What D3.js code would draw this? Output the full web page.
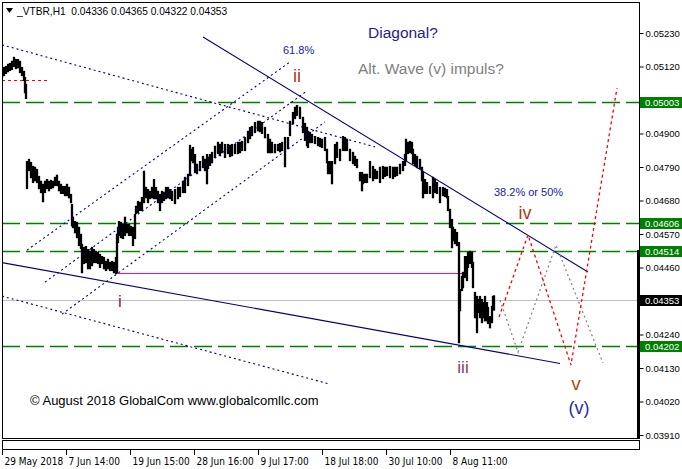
<!DOCTYPE html>
<html><head><meta charset="utf-8">
<script src="https://cdn.jsdelivr.net/npm/d3@7/dist/d3.min.js"></script>
<style>
body{margin:0;background:#fff;}
svg{display:block;font-family:"Liberation Sans",Arial,sans-serif;}
</style>
</head><body>
<svg id="c" width="682" height="469"></svg>
<script>
// ---------- DATA ----------
const header = "_VTBR,H1  0.04336 0.04365 0.04322 0.04353";
// hourly bars: [bar number, high, low] with prices in points (1e-5)
const hourBars = [
[2,5109,5086],[4,5115,5092],[6,5118,5099],[8,5125,5105],[10,5128,5109],[12,5135,5112],[14,5148,5122],[16,5141,5115],[18,5141,5118],[20,5135,5102],[22,5115,5092],[24,5102,5076],[25,5082,5036],[26,5059,5017],
[27,4806,4721],[29,4813,4780],[31,4803,4757],[33,4790,4741],[35,4787,4747],[37,4780,4741],[39,4757,4721],[41,4741,4708],[43,4731,4678],[45,4741,4708],[47,4747,4721],[49,4741,4714],[51,4744,4721],[53,4741,4724],[55,4754,4731],[57,4761,4731],[59,4741,4714],[61,4731,4705],[63,4724,4705],[65,4724,4698],[67,4731,4698],[69,4721,4691],[71,4698,4675],[72,4665,4599],[73,4623,4593],[75,4609,4576],[77,4606,4560],[79,4590,4534],[81,4567,4524],[82,4534,4445],[84,4524,4475],[86,4527,4478],[88,4517,4458],[90,4511,4458],[92,4524,4468],[94,4517,4478],[96,4511,4478],[98,4508,4475],[100,4501,4462],[102,4494,4475],[104,4491,4458],[106,4478,4452],[108,4485,4458],[110,4475,4452],[112,4478,4452],[114,4475,4445],[116,4491,4442],[117,4567,4445],[118,4590,4544],[119,4609,4567],[121,4606,4560],[123,4599,4557],[125,4623,4567],[127,4599,4576],[129,4599,4567],[131,4593,4567],[133,4590,4534],[135,4632,4557],[136,4659,4639],[138,4675,4642],[140,4672,4649],[142,4688,4649],[144,4774,4675],[146,4721,4691],[148,4714,4675],[150,4708,4688],[152,4721,4691],[154,4747,4688],[156,4721,4688],[158,4708,4675],[160,4698,4649],[162,4708,4675],[164,4705,4682],[166,4721,4688],[168,4721,4691],[170,4714,4688],[172,4708,4682],[175,4714,4672],[178,4721,4688],[180,4721,4695],[183,4741,4708],[185,4754,4708],[188,4764,4731],[190,4859,4764],[192,4846,4813],[193,4852,4806],[195,4829,4774],[197,4797,4770],[200,4806,4780],[203,4823,4790],[205,4813,4780],[207,4829,4737],[208,4820,4787],[210,4829,4797],[212,4836,4806],[215,4856,4823],[218,4869,4836],[220,4862,4829],[222,4869,4839],[225,4862,4823],[228,4862,4836],[230,4859,4826],[232,4862,4829],[235,4862,4836],[238,4869,4836],[240,4869,4839],[242,4872,4846],[245,4885,4846],[248,4905,4872],[250,4918,4885],[252,4921,4895],[255,4934,4905],[258,4938,4911],[260,4938,4908],[262,4934,4902],[265,4918,4888],[268,4895,4839],[270,4879,4839],[272,4869,4839],[275,4862,4839],[278,4862,4846],[280,4865,4842],[282,4869,4846],[285,4885,4793],[288,4885,4852],[290,4938,4895],[293,4967,4934],[295,4984,4951],[297,4990,4961],[300,4984,4951],[303,4951,4905],[305,4931,4879],[307,4918,4862],[308,4905,4856],[310,4902,4872],[312,4895,4872],[315,4888,4869],[318,4885,4862],[320,4882,4859],[322,4879,4856],[325,4885,4846],[327,4846,4806],[328,4806,4770],[330,4806,4770],[332,4806,4737],[335,4862,4803],[337,4869,4823],[340,4846,4813],[343,4888,4846],[345,4885,4846],[347,4879,4846],[350,4846,4813],[353,4836,4803],[355,4823,4797],[357,4813,4790],[360,4770,4747],[362,4770,4714],[363,4764,4737],[365,4764,4741],[367,4764,4741],[370,4806,4757],[373,4790,4747],[375,4780,4754],[377,4774,4754],[380,4787,4741],[383,4790,4754],[385,4787,4761],[387,4787,4764],[390,4790,4757],[393,4787,4754],[395,4787,4761],[397,4787,4764],[400,4797,4770],[403,4806,4780],[405,4829,4797],[406,4879,4813],[408,4869,4836],[410,4872,4839],[412,4869,4836],[413,4846,4803],[415,4829,4797],[417,4823,4790],[420,4813,4787],[422,4787,4747],[423,4770,4691],[425,4747,4705],[427,4737,4705],[430,4724,4705],[433,4754,4691],[435,4747,4708],[437,4737,4705],[440,4721,4675],[443,4721,4698],[445,4718,4695],[447,4714,4691],[448,4691,4649],[450,4649,4593],[452,4616,4527],[453,4590,4550],[455,4583,4540],[457,4573,4534],[459,4540,4215],[460,4386,4320],[462,4429,4386],[463,4442,4396],[465,4494,4429],[467,4494,4419],[468,4508,4462],[470,4511,4475],[472,4508,4462],[473,4475,4396],[475,4376,4297],[477,4363,4248],[478,4353,4314],[480,4363,4297],[482,4353,4281],[483,4343,4297],[485,4363,4287],[487,4343,4287],[488,4327,4278],[490,4297,4264],[492,4330,4281],[493,4363,4330],[494,4365,4322]
];
// visible price-scale labels (0.05010 and 0.04350 are hidden behind the level boxes)
const priceTicks = [0.05230,0.05120,0.04900,0.04790,0.04680,0.04570,0.04460,0.04240,0.04130,0.04020,0.03910];
const timeTickBars = [2,66,130,194,258,322,386,450];
const timeTickLabels = ["29 May 2018","7 Jun 14:00","19 Jun 15:00","28 Jun 16:00","9 Jul 17:00","18 Jul 18:00","30 Jul 10:00","8 Aug 11:00"];
const levelPrices = [0.05003,0.04606,0.04514,0.04202];
const lastPrice = 0.04353;
const pinkLevel = [117,463,0.04442];
const redLevel = [2,47,0.05076];
// trend lines [bar1, price1, bar2, price2]
const solidTrends = [[203,0.05217,588,0.04445],[2,0.04476,560,0.04145]];
const dottedTrends = [[2,0.05191,375,0.04856],[2,0.04366,330,0.04077],[27,0.04517,290,0.05135],[45,0.04412,307,0.05040],[62,0.04307,325,0.04938]];
// projected paths
const redPathBars = [499,528,571,617];
const redPathPrices = [0.04297,0.04567,0.04140,0.05049];
const greyPathBars = [500,518,556,603];
const greyPathPrices = [0.04353,0.04182,0.04534,0.04146];
// wave labels [text, bar, price(baseline), size, color]
const waveLabels = [
 ["i",120,0.04330,17,"#802060"],
 ["ii",297,0.05069,18,"#b0381a"],
 ["iii",463,0.04113,17,"#80406a"],
 ["iv",525,0.04619,18,"#b0381a"],
 ["v",576,0.04058,19,"#a0501a"],
 ["(v)",579,0.03979,18,"#2a2aa8"]
];
// note labels [text, bar, price(baseline), size, color]
const notes = [
 ["61.8%",283,0.05161,11,"#2020a0"],
 ["38.2% or 50%",494,0.04695,11,"#2020a0"],
 ["Diagonal?",368,0.05214,15.5,"#2a1a8c"],
 ["Alt. Wave (v) impuls?",358,0.05095,15.5,"#808080"]
];
const copyright = "\u00a9 August 2018 GlobalCom www.globalcomllc.com";

// ---------- DRAW ----------
const W=682,H=469,L=2,R=639,T=2,B=438;
const svg = d3.select("#c");
svg.append("rect").attr("width",W).attr("height",H).attr("fill","#fff");
const x = d3.scaleLinear().domain([2,639]).range([L,R]);
const y = d3.scaleLinear().domain([0.03910,0.05230]).range([435,33]);
const ry = v => Math.round(y(v)) + 0.5;   // pixel-snapped horizontal lines

svg.append("defs").append("clipPath").attr("id","clip")
  .append("rect").attr("x",L).attr("y",T).attr("width",R-L).attr("height",B-T);
const g = svg.append("g").attr("clip-path","url(#clip)");

// last price line
g.append("line").attr("x1",L).attr("x2",R).attr("y1",ry(lastPrice)).attr("y2",ry(lastPrice))
  .attr("stroke","#c0c0c0").attr("stroke-width",1);
// level lines
g.selectAll(".lvl").data(levelPrices).join("line")
  .attr("x1",L).attr("x2",R).attr("y1",d=>ry(d)).attr("y2",d=>ry(d))
  .attr("stroke","#008000").attr("stroke-width",1.4).attr("stroke-dasharray","18,6");
// pink level
g.append("line").attr("x1",x(pinkLevel[0])).attr("x2",x(pinkLevel[1]))
  .attr("y1",ry(pinkLevel[2])).attr("y2",ry(pinkLevel[2])).attr("stroke","#ee00ee").attr("stroke-width",1);
// red short level
g.append("line").attr("x1",x(redLevel[0])).attr("x2",x(redLevel[1]))
  .attr("y1",ry(redLevel[2])).attr("y2",ry(redLevel[2])).attr("stroke","#ff0000").attr("stroke-width",1.2).attr("stroke-dasharray","3,3");

// bars
g.selectAll(".bar").data(hourBars).join("line")
  .attr("x1",d=>x(d[0])).attr("x2",d=>x(d[0]))
  .attr("y1",d=>y(d[1]/1e5)).attr("y2",d=>y(d[2]/1e5))
  .attr("stroke","#000").attr("stroke-width",2.3).attr("stroke-linecap","square");

// trend lines
g.selectAll(".st").data(solidTrends).join("line")
  .attr("x1",d=>x(d[0])).attr("y1",d=>y(d[1])).attr("x2",d=>x(d[2])).attr("y2",d=>y(d[3]))
  .attr("stroke","#000080").attr("stroke-width",1.1);
g.selectAll(".dt").data(dottedTrends).join("line")
  .attr("x1",d=>x(d[0])).attr("y1",d=>y(d[1])).attr("x2",d=>x(d[2])).attr("y2",d=>y(d[3]))
  .attr("stroke","#000080").attr("stroke-width",1.1).attr("stroke-dasharray","2,3");

// projections
const pl = d3.line().x(d=>x(d[0])).y(d=>y(d[1]));
g.append("path").datum(greyPathBars.map((b,i)=>[b,greyPathPrices[i]])).attr("d",pl)
  .attr("fill","none").attr("stroke","#808080").attr("stroke-width",1.2).attr("stroke-dasharray","2,3");
g.append("path").datum(redPathBars.map((b,i)=>[b,redPathPrices[i]])).attr("d",pl)
  .attr("fill","none").attr("stroke","#ff0000").attr("stroke-width",1.3).attr("stroke-dasharray","3,3");

// labels
g.selectAll(".wl").data(waveLabels).join("text")
  .attr("x",d=>x(d[1])).attr("y",d=>y(d[2])).attr("text-anchor","middle")
  .attr("font-size",d=>d[3]).attr("fill",d=>d[4]).text(d=>d[0]);
g.selectAll(".nt").data(notes).join("text")
  .attr("x",d=>x(d[1])).attr("y",d=>y(d[2]))
  .attr("font-size",d=>d[3]).attr("fill",d=>d[4]).text(d=>d[0]);
svg.append("text").attr("x",30).attr("y",405).attr("font-size",13).attr("fill","#000").text(copyright);

// frame
svg.append("rect").attr("x",L+0.5).attr("y",T+0.5).attr("width",R-L).attr("height",B-T)
  .attr("fill","none").attr("stroke","#000");
svg.append("rect").attr("x",L+0.5).attr("y",440.5).attr("width",R-L).attr("height",9)
  .attr("fill","none").attr("stroke","#000");
svg.append("line").attr("x1",R-0.5).attr("x2",R-0.5).attr("y1",250).attr("y2",B)
  .attr("stroke","#000").attr("stroke-width",3);

// header
svg.append("path").attr("d","M6,8L13,8L9.5,13Z").attr("fill","#000");
svg.append("text").attr("x",17).attr("y",15).attr("font-size",10.2).attr("fill","#000")
  .style("white-space","pre").text(header);

// price axis
const ya = svg.append("g").attr("transform",`translate(${R+0.5},0)`)
  .call(d3.axisRight(y).tickValues(priceTicks).tickSize(4).tickPadding(2).tickFormat(d3.format(".5f")));
ya.select(".domain").remove();
ya.selectAll("text").attr("font-family","Liberation Sans, Arial").attr("font-size",9.5).attr("fill","#000");
ya.selectAll("line").attr("stroke","#000");

// level boxes
const boxes = levelPrices.map(p=>[p,"#008000"]).concat([[lastPrice,"#000"]]);
const bx = svg.selectAll(".bx").data(boxes).join("g");
bx.append("rect").attr("x",R+1).attr("y",d=>Math.round(y(d[0]))-5).attr("width",W-R-1).attr("height",11).attr("fill",d=>d[1]);
bx.append("text").attr("x",R+6).attr("y",d=>Math.round(y(d[0]))+4).attr("font-size",9.5).attr("fill","#fff")
  .text(d=>d3.format(".5f")(d[0]));

// time axis
const xa = svg.append("g").attr("transform","translate(0,450)")
  .call(d3.axisBottom(x).tickValues(timeTickBars).tickSize(5).tickFormat((d,i)=>timeTickLabels[i]));
xa.select(".domain").remove();
xa.selectAll("line").attr("stroke","#000");
xa.selectAll("text").attr("text-anchor","start").attr("x",2).attr("y",8).attr("dy","0.71em")
  .attr("font-family","Liberation Sans Narrow, Arial Narrow, DejaVu Sans Condensed, sans-serif")
  .attr("font-size",10).attr("fill","#000");
</script>
</body></html>
